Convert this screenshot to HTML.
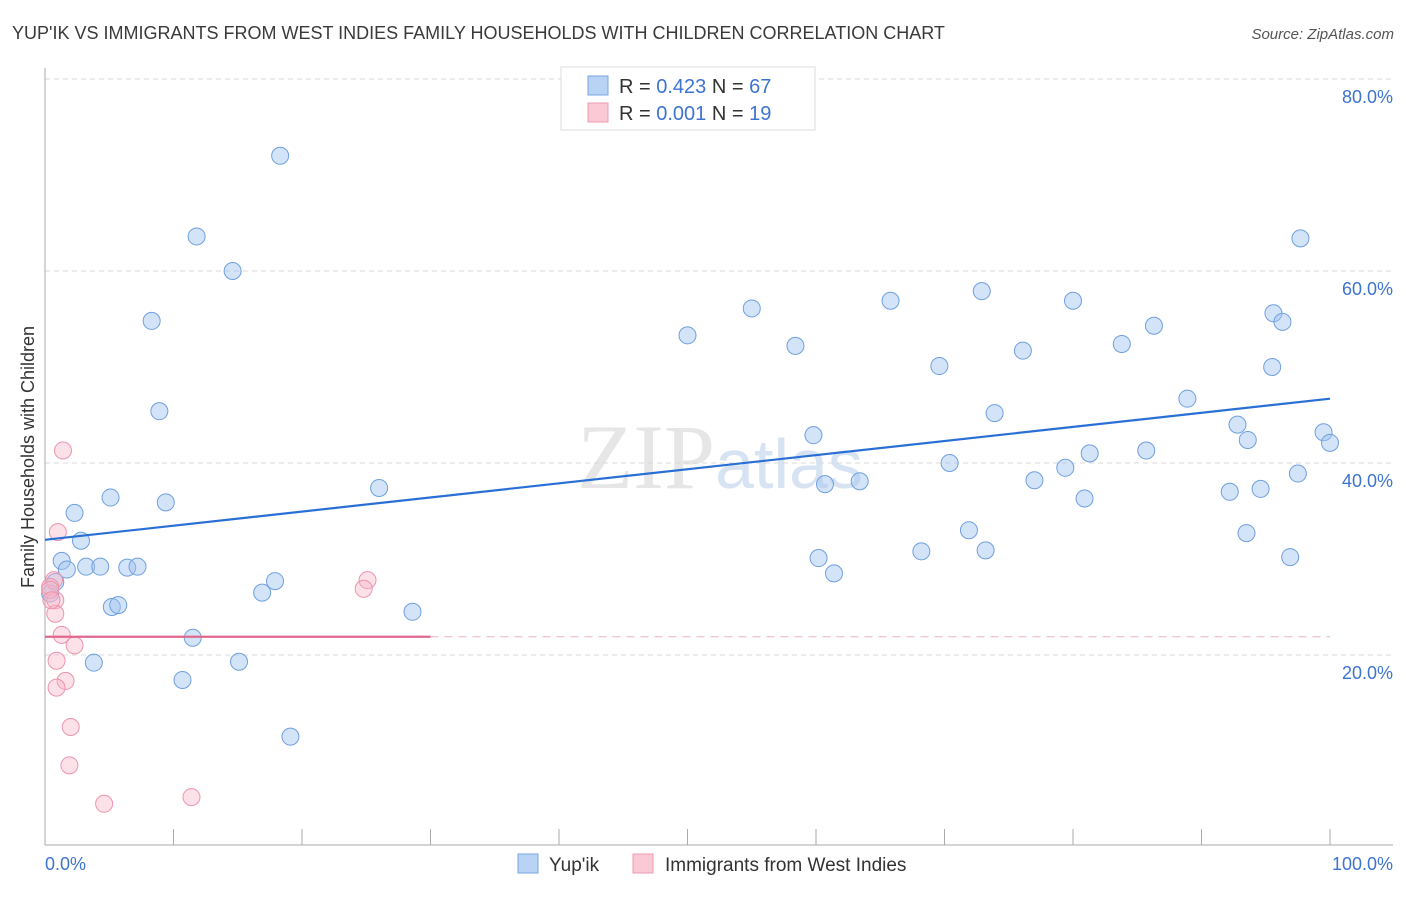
<!DOCTYPE html>
<html><head><meta charset="utf-8"><style>
body{margin:0;background:#fff;font-family:"Liberation Sans",sans-serif}
</style></head><body>
<svg id="chart" width="1406" height="892" xmlns="http://www.w3.org/2000/svg" font-family="Liberation Sans, sans-serif">
<text x="12" y="39" font-size="18" fill="#3a3a3a">YUP'IK VS IMMIGRANTS FROM WEST INDIES FAMILY HOUSEHOLDS WITH CHILDREN CORRELATION CHART</text>
<text x="1394" y="39" font-size="15" fill="#555" text-anchor="end" font-style="italic">Source: ZipAtlas.com</text>
<text x="720" y="488" font-size="92" text-anchor="middle" fill="#e6e6e6" font-family="Liberation Serif, serif">ZIP<tspan fill="#d7e3f3" font-family="Liberation Sans, sans-serif" font-size="70">atlas</tspan></text>
<g id="grid"></g><g id="axes"></g><g id="marks"></g>
<text transform="translate(34,457) rotate(-90)" font-size="18" fill="#333" text-anchor="middle">Family Households with Children</text>
<text x="45" y="870" font-size="18" fill="#3d74d0">0.0%</text>
<text x="1393" y="870" font-size="18" fill="#3d74d0" text-anchor="end">100.0%</text>
<g>
<rect x="561" y="67" width="254" height="63" fill="#fff" stroke="#ddd"/>
<rect x="588" y="76" width="20" height="19" fill="#b9d3f5" stroke="#7aa6e0"/>
<rect x="588" y="103" width="20" height="19" fill="#fbc8d6" stroke="#ec9ab2"/>
<text x="619" y="93" font-size="20" fill="#333">R = <tspan fill="#3d74d0">0.423</tspan>   N = <tspan fill="#3d74d0">67</tspan></text>
<text x="619" y="120" font-size="20" fill="#333">R = <tspan fill="#3d74d0">0.001</tspan>   N = <tspan fill="#3d74d0"> 19</tspan></text>
</g>
<g>
<rect x="518" y="854" width="20" height="19" fill="#b9d3f5" stroke="#7aa6e0"/>
<text x="549" y="871" font-size="19" fill="#333">Yup'ik</text>
<rect x="633" y="854" width="20" height="19" fill="#fbc8d6" stroke="#ec9ab2"/>
<text x="665" y="871" font-size="19" fill="#333">Immigrants from West Indies</text>
</g>
</svg>
<script>
const yTicks=[20,40,60,80];
const yTickLabels=["20.0%","40.0%","60.0%","80.0%"];
const xTicks=[10,20,30,40,50,60,70,80,90,100];
const blueX=[18.3,11.8,14.6,8.3,8.9,5.1,9.4,2.3,2.8,1.3,1.7,3.2,4.3,6.4,7.2,0.8,0.4,5.2,5.7,3.8,10.7,15.1,11.5,16.9,17.9,26.0,28.6,19.1,50.0,55.0,58.4,59.8,60.7,63.4,60.2,61.4,65.8,69.6,70.4,68.2,71.9,73.2,72.9,73.9,76.1,77.0,79.4,80.0,80.9,81.3,83.8,85.7,86.3,88.9,92.2,92.8,93.6,93.5,94.6,95.6,96.3,95.5,96.9,97.5,97.7,99.5,100];
const blueY=[72.0,63.6,60.0,54.8,45.4,36.4,35.9,34.8,31.9,29.8,28.9,29.2,29.2,29.1,29.2,27.6,26.4,25.0,25.2,19.2,17.4,19.3,21.8,26.5,27.7,37.4,24.5,11.5,53.3,56.1,52.2,42.9,37.8,38.1,30.1,28.5,56.9,50.1,40.0,30.8,33.0,30.9,57.9,45.2,51.7,38.2,39.5,56.9,36.3,41.0,52.4,41.3,54.3,46.7,37.0,44.0,42.4,32.7,37.3,55.6,54.7,50.0,30.2,38.9,63.4,43.2,42.1];
const pinkX=[1.4,1.0,0.7,0.4,0.8,0.8,1.3,2.3,0.9,1.6,0.9,2.0,1.9,4.6,11.4,25.1,24.8,0.4,0.5];
const pinkY=[41.3,32.8,27.8,27.1,25.7,24.3,22.1,21.0,19.4,17.3,16.6,12.5,8.5,4.5,5.2,27.8,26.9,26.8,25.7];
const blueTrend=[32.0,46.7];
const pinkTrend=[21.9,21.9];
const pinkSolidEnd=30;
const NS="http://www.w3.org/2000/svg";
const X0=45,X1=1330,Y0=847,PX=9.6;
const sx=v=>X0+(X1-X0)*v/100, sy=v=>Y0-v*PX;
function mk(tag,attrs,parent){const e=document.createElementNS(NS,tag);for(const k in attrs)e.setAttribute(k,attrs[k]);document.getElementById(parent).appendChild(e);return e;}
yTicks.forEach((t,i)=>{
 const l=mk('line',{x1:45,x2:1393,y1:sy(t),y2:sy(t),stroke:'#d8d8d8','stroke-dasharray':'5,4'},'grid');
 
 
 const tx=mk('text',{x:1393,y:sy(t)+24,'font-size':18,fill:'#3d74d0','text-anchor':'end'},'grid');
 tx.textContent=yTickLabels[i];
 
 
});
let a=mk('line',{x1:45,x2:45,y1:68,y2:845,stroke:'#aaa'},'axes');


a=mk('line',{x1:45,x2:1393,y1:845,y2:845,stroke:'#aaa'},'axes');


xTicks.forEach(t=>{
 const l=mk('line',{x1:sx(t),x2:sx(t),y1:829,y2:845,stroke:'#aaa'},'axes');
 
 
});
blueX.forEach((x,i)=>{
 const c=mk('circle',{cx:sx(x),cy:sy(blueY[i]),r:8.5,fill:'rgba(160,196,240,0.45)',stroke:'#6f9fe0','stroke-width':1},'marks');
 
 
});
pinkX.forEach((x,i)=>{
 const c=mk('circle',{cx:sx(x),cy:sy(pinkY[i]),r:8.5,fill:'rgba(248,180,200,0.4)',stroke:'#ec94ae','stroke-width':1},'marks');
 
 
});
let t=mk('line',{x1:sx(0),x2:sx(100),y1:sy(blueTrend[0]),y2:sy(blueTrend[1]),stroke:'#2a6fd6','stroke-width':2.2},'marks');


t=mk('line',{x1:sx(0),x2:sx(pinkSolidEnd),y1:sy(pinkTrend[0]),y2:sy(pinkTrend[0]),stroke:'#e0688e','stroke-width':2.2},'marks');


t=mk('line',{x1:sx(pinkSolidEnd),x2:sx(100),y1:sy(pinkTrend[0]),y2:sy(pinkTrend[1]),stroke:'#e8b3c3','stroke-width':1,'stroke-dasharray':'8,6'},'marks');


</script>
</body></html>
